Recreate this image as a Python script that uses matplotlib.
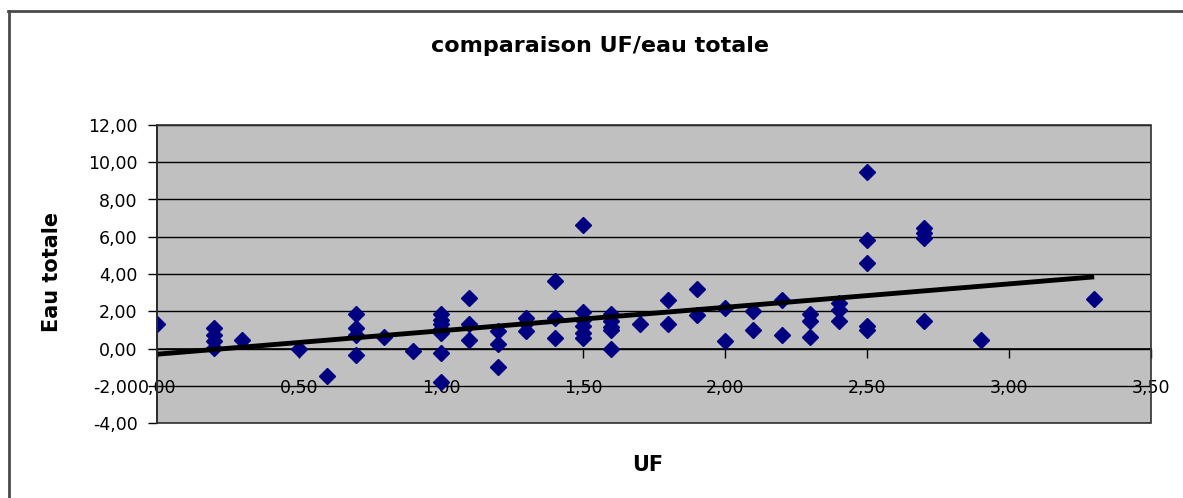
import numpy as np
import matplotlib
matplotlib.use("Agg")
import matplotlib.pyplot as plt
from matplotlib.lines import Line2D
from matplotlib.patches import Rectangle

# ---- data ----
uf = [0.0,
      0.2, 0.2, 0.2, 0.2,
      0.3, 0.5, 0.6,
      0.7, 0.7, 0.7, 0.7,
      0.8, 0.9,
      1.0, 1.0, 1.0, 1.0, 1.0, 1.0, 1.0,
      1.1, 1.1, 1.1,
      1.2, 1.2, 1.2,
      1.3, 1.3, 1.3,
      1.4, 1.4, 1.4,
      1.5, 1.5, 1.5, 1.5, 1.5, 1.5,
      1.6, 1.6, 1.6, 1.6, 1.6,
      1.7,
      1.8, 1.8,
      1.9, 1.9,
      2.0, 2.0,
      2.1, 2.1,
      2.2, 2.2,
      2.3, 2.3, 2.3,
      2.4, 2.4, 2.4,
      2.5, 2.5, 2.5, 2.5, 2.5,
      2.7, 2.7, 2.7, 2.7,
      2.9, 3.3]
eau_totale = [1.3,
              1.1, 0.75, 0.4, 0.05,
              0.45, -0.05, -1.5,
              1.85, 1.1, 0.75, -0.35,
              0.6, -0.15,
              1.85, 1.55, 1.3, 1.05, 0.85, -0.25, -1.8,
              2.7, 1.3, 0.45,
              0.95, 0.25, -1.0,
              1.65, 1.35, 0.95,
              3.6, 1.65, 0.55,
              6.65, 1.95, 1.55, 1.2, 0.85, 0.55,
              1.85, 1.45, 1.15, 1.0, 0.0,
              1.3,
              2.6, 1.3,
              3.2, 1.8,
              2.15, 0.4,
              2.0, 1.0,
              2.6, 0.7,
              1.85, 1.5, 0.6,
              2.45, 2.05, 1.45,
              9.45, 5.85, 4.6, 1.2, 1.0,
              6.45, 6.2, 5.95, 1.45,
              0.45, 2.65]

x_ticks = [0.0, 0.5, 1.0, 1.5, 2.0, 2.5, 3.0, 3.5]
x_tick_labels = ["0,00", "0,50", "1,00", "1,50", "2,00", "2,50", "3,00", "3,50"]
y_ticks = [-4, -2, 0, 2, 4, 6, 8, 10, 12]
y_tick_labels = ["-4,00", "-2,00", "0,00", "2,00", "4,00", "6,00", "8,00", "10,00", "12,00"]

title = "comparaison UF/eau totale"
x_label = "UF"
y_label = "Eau totale"

# ---- figure ----
W, H = 1183, 498
fig = plt.figure(figsize=(W / 100, H / 100), dpi=100)
fig.patch.set_facecolor("white")

left, right, top, bottom = 157, 1151, 125, 423
ax = fig.add_axes([left / W, 1 - bottom / H, (right - left) / W, (bottom - top) / H])
ax.set_facecolor("#C0C0C0")
ax.set_xlim(0, 3.5)
ax.set_ylim(-4, 12)

# gridlines
for yv in y_ticks:
    ax.axhline(yv, color="black", lw=1.0, zorder=1)

# points
ax.plot(uf, eau_totale, linestyle="none", marker="D", ms=8,
        color="#000080", mec="#000080", zorder=3)

# linear trendline (least squares over the data range)
xa = np.array(uf)
ya = np.array(eau_totale)
slope, intercept = np.polyfit(xa, ya, 1)
xt = np.array([xa.min(), xa.max()])
ax.plot(xt, slope * xt + intercept, color="black", lw=3.5, zorder=4,
        solid_capstyle="butt")

# spines / axes
for s in ["top", "right", "bottom", "left"]:
    ax.spines[s].set_visible(False)
ax.spines["left"].set_visible(True)
ax.spines["left"].set_color("black")
ax.spines["left"].set_linewidth(1.2)
ax.spines["left"].set_zorder(5)
ax.spines["bottom"].set_visible(True)
ax.spines["bottom"].set_position(("data", 0))
ax.spines["bottom"].set_color("black")
ax.spines["bottom"].set_linewidth(1.2)
ax.add_patch(Rectangle((0, 0), 1, 1, transform=ax.transAxes, fill=False,
                       ec="#303030", lw=1.2, clip_on=False, zorder=6))

ax.set_xticks(x_ticks)
ax.set_xticklabels(x_tick_labels)
ax.set_yticks(y_ticks)
ax.set_yticklabels(y_tick_labels)
ax.tick_params(axis="x", direction="out", length=6.5, width=1.0, pad=15.5,
               labelsize=12.5, colors="black")
ax.tick_params(axis="y", direction="out", length=6.5, width=1.0, pad=7.5,
               labelsize=12.5, colors="black")
for lab in ax.get_xticklabels() + ax.get_yticklabels():
    lab.set_fontfamily("DejaVu Sans")

# texts
fig.text(600 / W, 1 - 46 / H, title, ha="center", va="center",
         fontsize=16, fontweight="bold", family="DejaVu Sans")
fig.text(648 / W, 1 - 465 / H, x_label, ha="center", va="center",
         fontsize=15, fontweight="bold", family="DejaVu Sans")
fig.text(52 / W, 1 - 272 / H, y_label, ha="center", va="center", rotation=90,
         fontsize=15, fontweight="bold", family="DejaVu Sans")

# outer chart-area border (top and left edges visible)
fig.add_artist(Line2D([8 / W, 1.0], [1 - 11 / H, 1 - 11 / H],
                      transform=fig.transFigure, color="#4a4a4a", lw=2))
fig.add_artist(Line2D([8.5 / W, 8.5 / W], [0.0, 1 - 11 / H],
                      transform=fig.transFigure, color="#4a4a4a", lw=2))

fig.savefig("out.png", dpi=100)
